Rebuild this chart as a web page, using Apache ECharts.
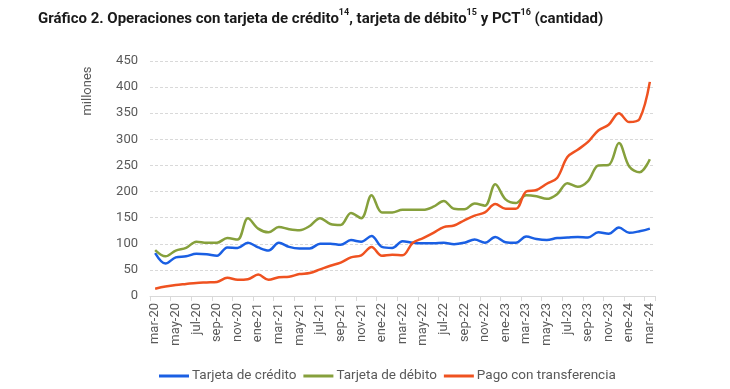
<!DOCTYPE html>
<html>
<head>
<meta charset="utf-8">
<script src="https://cdn.jsdelivr.net/npm/echarts@6/dist/echarts.min.js"></script>
<style>
html,body{margin:0;padding:0;background:#fff;}
#c{width:730px;height:389px;}
</style>
</head>
<body>
<div id="c"></div>
<script>
const categories = [
  'mar-20','abr-20','may-20','jun-20','jul-20','ago-20','sep-20','oct-20','nov-20','dic-20',
  'ene-21','feb-21','mar-21','abr-21','may-21','jun-21','jul-21','ago-21','sep-21','oct-21','nov-21','dic-21',
  'ene-22','feb-22','mar-22','abr-22','may-22','jun-22','jul-22','ago-22','sep-22','oct-22','nov-22','dic-22',
  'ene-23','feb-23','mar-23','abr-23','may-23','jun-23','jul-23','ago-23','sep-23','oct-23','nov-23','dic-23',
  'ene-24','feb-24','mar-24'
];
const credito = [
  82, 62, 74, 76, 81, 80, 77, 93, 92, 102,
  93, 87, 102, 94, 91, 91, 100, 100, 98, 107, 104, 115,
  94, 92, 105, 102, 101, 101, 102, 99, 102, 108, 102, 113,
  103, 102, 114, 109, 107, 111, 112, 113, 112, 122, 119, 131,
  121, 124, 129
];
const debito = [
  88, 76, 87, 92, 104, 102, 102, 111, 108, 149,
  129, 122, 132, 128, 126, 134, 149, 138, 136, 159, 149, 193,
  160, 160, 165, 165, 165, 171, 182, 167, 166, 177, 173, 214,
  185, 178, 193, 191, 186, 195, 216, 209, 220, 250, 251, 293,
  248, 237, 262
];
const transferencia = [
  14, 18, 21, 23, 25, 26, 27, 35, 31, 32,
  41, 31, 36, 37, 42, 44, 51, 58, 64, 74, 78, 94,
  77, 79, 78, 102, 111, 121, 132, 135, 145, 154, 160, 176,
  167, 167, 200, 203, 215, 226, 266, 280, 295, 317, 328, 350,
  333, 339, 410
];
const seriesNames = ['Tarjeta de crédito', 'Tarjeta de débito', 'Pago con transferencia'];
const yTicks = [0, 50, 100, 150, 200, 250, 300, 350, 400, 450];

const colors = ['#1A5FE3', '#86A03C', '#EF5220'];
const chart = echarts.init(document.getElementById('c'), null, {renderer: 'canvas'});
const font = 'Roboto';
const gray = '#595959';

chart.setOption({
  animation: false,
  backgroundColor: '#ffffff',
  color: colors,
  title: {
    left: 33, top: 2,
    text: '{b|Gráfico 2. Operaciones con tarjeta de crédito}{s|14}{b|, tarjeta de débito}{s|15}{b| y PCT}{s|16}{b| (cantidad)}',
    textStyle: {
      rich: {
        b: {fontFamily: font, fontWeight: 'bold', fontSize: 15, color: '#1a1a1a', lineHeight: 20, verticalAlign: 'bottom'},
        s: {fontFamily: font, fontWeight: 'bold', fontSize: 9, color: '#1a1a1a', lineHeight: 20, verticalAlign: 'top', padding: [1, 0, 0, 0]}
      }
    }
  },
  graphic: [{
    type: 'text', x: 88, y: 91, rotation: Math.PI / 2,
    style: {text: 'millones', font: '13px Roboto', fill: gray, align: 'center', verticalAlign: 'middle'}
  }],
  legend: {
    top: 364, left: 154,
    itemWidth: 30, itemHeight: 3, itemGap: 7, icon: 'rect',
    textStyle: {fontFamily: font, fontSize: 13.5, color: gray, padding: [0, 0, 0, -2]},
    data: seriesNames
  },
  grid: {left: 150, right: 75, top: 61, bottom: 93, containLabel: false},
  xAxis: {
    type: 'category', data: categories, boundaryGap: true,
    axisLine: {lineStyle: {color: '#d9d9d9', width: 1}},
    axisTick: {show: true, interval: 1, length: 5, lineStyle: {color: '#d9d9d9'}},
    axisLabel: {interval: 1, rotate: 90, fontFamily: font, fontSize: 13, color: gray, margin: 7}
  },
  yAxis: {
    type: 'value', min: yTicks[0], max: yTicks[yTicks.length - 1], interval: 50,
    axisLine: {show: false}, axisTick: {show: false},
    axisLabel: {fontFamily: font, fontSize: 13, color: gray, margin: 12},
    splitLine: {lineStyle: {color: '#d9d9d9', type: [3, 2], width: 1}}
  },
  series: [
    {name: seriesNames[0], type: 'line', data: credito, smooth: 0.35, showSymbol: false, lineStyle: {width: 2.5}},
    {name: seriesNames[1], type: 'line', data: debito, smooth: 0.35, showSymbol: false, lineStyle: {width: 2.5}},
    {name: seriesNames[2], type: 'line', data: transferencia, smooth: 0.35, showSymbol: false, lineStyle: {width: 2.5}}
  ]
});
</script>
</body>
</html>
